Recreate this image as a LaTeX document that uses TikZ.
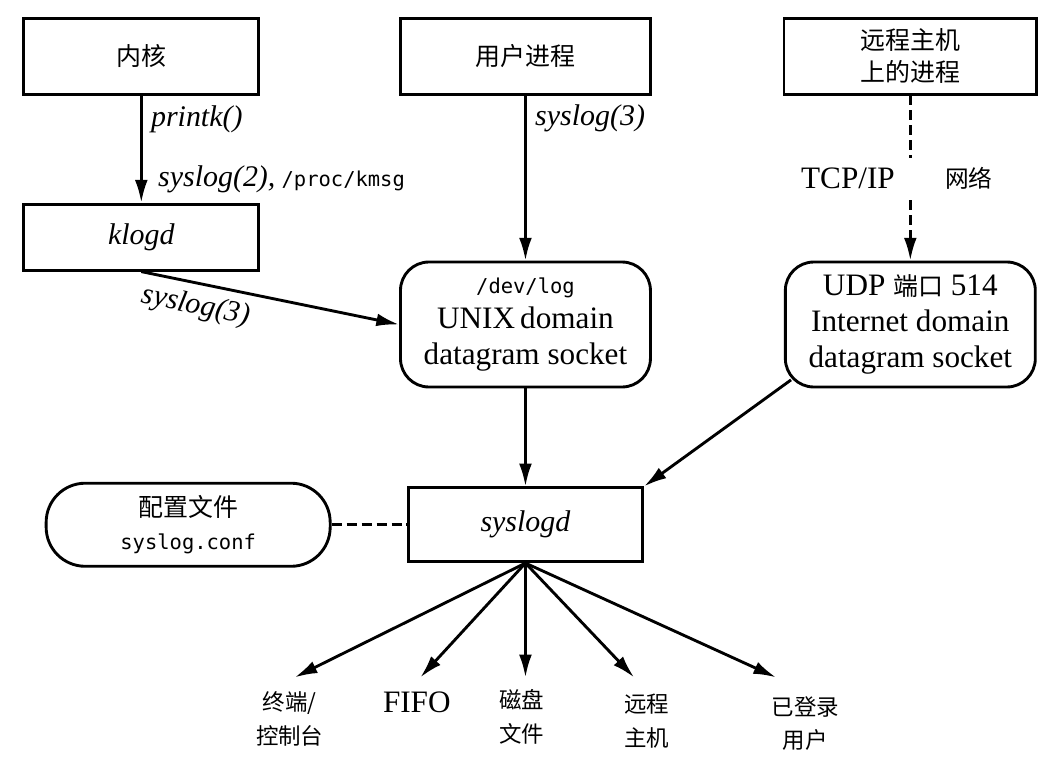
\documentclass[tikz,border=0pt]{standalone}
\usepackage{fontspec}
\setmainfont{Liberation Serif}
\setmonofont{DejaVu Sans Mono}
\newfontfamily\cjk{Noto Sans CJK SC}
\usetikzlibrary{arrows.meta,positioning}
\newcommand{\fpath}[1]{{\ttfamily\fontsize{8.2}{10}\selectfont #1}}

\begin{document}
\begin{tikzpicture}[
    box/.style={draw, line width=1.15pt, minimum height=1.07cm, align=center, font=\cjk\fontsize{10}{13}\selectfont},
    sock/.style={draw, line width=1.15pt, rounded corners=0.4cm, minimum width=3.52cm, minimum height=1.76cm, align=center, font=\fontsize{12.5}{14.4}\selectfont},
    call/.style={font=\itshape\fontsize{12}{14}\selectfont},
    dest/.style={align=center, font=\cjk\fontsize{9}{13.6}\selectfont},
    arrow/.style={-{Latex[length=0.32cm, width=0.18cm]}, line width=1.15pt}
]
\useasboundingbox (0,0) rectangle (14.97,10.85);

% Sources
\node[box, minimum width=3.31cm] (kernel) at (1.99, 10.06) {内核};
\node[box, minimum width=3.52cm] (user) at (7.40, 10.06) {用户进程};
\node[box, minimum width=3.56cm] (remote) at (12.82, 10.06) {远程主机\\上的进程};
\node[box, call, minimum width=3.31cm, minimum height=0.93cm] (klogd) at (1.99, 7.51) {klogd};

% Sockets
\node[sock] (devlog) at (7.40, 6.28) {\fpath{/dev/log}\\UNIX\,domain\\datagram socket};
\node[sock] (udp) at (12.82, 6.28) {UDP {\cjk\fontsize{10}{13}\selectfont 端口} 514\\Internet domain\\datagram socket};

% Daemon and its config
\node[box, call, minimum width=3.30cm, minimum height=1.04cm] (syslogd) at (7.40, 3.46) {syslogd};
\node[box, rounded corners=0.55cm, minimum width=4.0cm, minimum height=1.17cm] (conf) at (2.65, 3.46) {配置文件\\\fpath{syslog.conf}};

% Arrows into the sockets
\draw[arrow] (kernel) -- node[call, pos=0.22, right] {printk()}
    node[pos=0.78, right, xshift=0.1cm] {{\itshape\fontsize{12}{14}\selectfont syslog(2),} \fpath{/proc/kmsg}} (klogd);
\draw[arrow] (user) -- node[call, pos=0.14, right] {syslog(3)} (devlog);
\draw[arrow] (klogd.south) -- node[call, pos=0.23, below, sloped] {syslog(3)} (devlog.west);
\draw[arrow, dash pattern=on 4pt off 2pt] (remote) -- node[fill=white, minimum width=0.15cm, minimum height=0.56cm, inner sep=0pt] (net) {} (udp);
\node[font=\fontsize{12.5}{14}\selectfont, left=0cm of net] {TCP/IP};
\node[font=\cjk\fontsize{9.5}{12}\selectfont, right=0.27cm of net] {网络};

% Into syslogd
\draw[arrow] (devlog) -- (syslogd);
\draw[arrow] ([shift={(0.1,0.12)}]udp.south west) -- (syslogd.north east);
\draw[line width=1.15pt, dash pattern=on 4pt off 2pt] (conf) -- (syslogd);

% Outputs
\foreach \x/\n in {4.15/1, 5.92/2, 7.40/3, 8.93/4, 10.93/5} {
    \coordinate (o\n) at (\x, 1.31);
    \draw[arrow] (syslogd.south) -- (o\n);
}
\node[dest] (tty) at (4.08, 0.72) {终端/\\控制台};
\node[font=\fontsize{12.5}{14}\selectfont] (fifo) at (5.87, 0.96) {FIFO};
\node[dest] (disk) at (7.35, 0.76) {磁盘\\文件};
\node[dest] (rhost) at (9.11, 0.70) {远程\\主机};
\node[dest] (users) at (11.34, 0.66) {已登录\\用户};

\end{tikzpicture}
\end{document}
